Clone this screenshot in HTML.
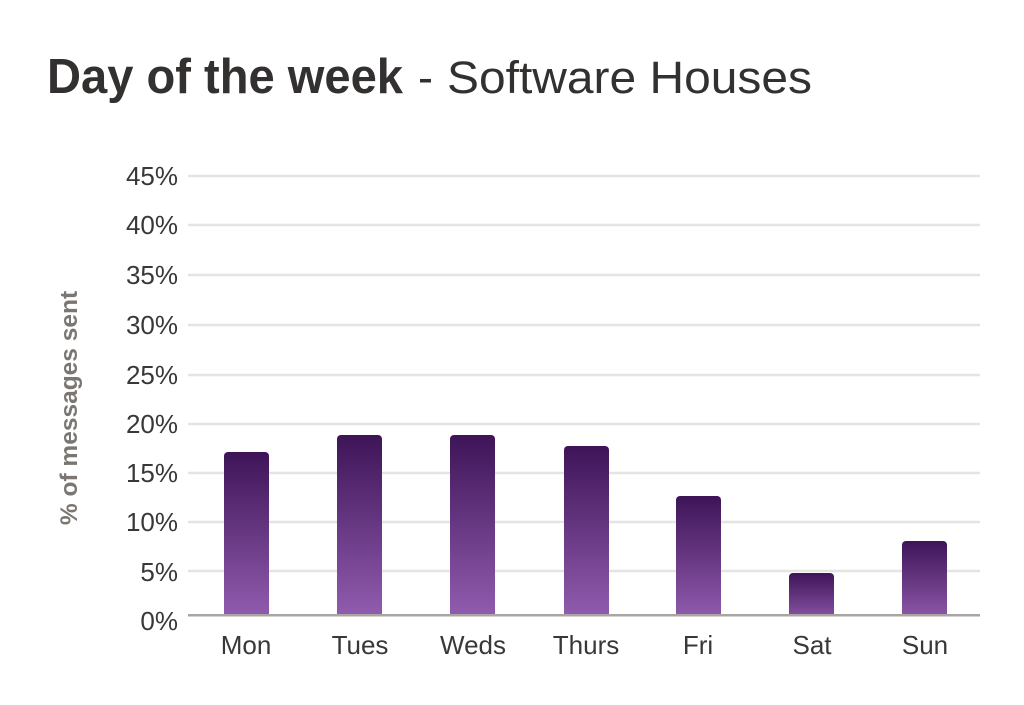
<!DOCTYPE html>
<html><head><meta charset="utf-8"><style>html,body{margin:0;padding:0;background:#fff}svg{display:block}</style></head>
<body>
<svg width="1024" height="705" xmlns="http://www.w3.org/2000/svg" font-family="Liberation Sans, sans-serif">
<defs><linearGradient id="g" x1="0" y1="0" x2="0" y2="1"><stop offset="0" stop-color="#3e1457"/><stop offset="1" stop-color="#9660b4"/></linearGradient>
<clipPath id="c"><rect x="0" y="0" width="1024" height="615"/></clipPath></defs>
<text x="47" y="93" font-size="49" font-weight="bold" fill="#333130" textLength="356" lengthAdjust="spacingAndGlyphs">Day of the week</text>
<text x="418" y="93" font-size="45" fill="#333130">-</text>
<text x="447" y="93" font-size="45" fill="#333130" textLength="365" lengthAdjust="spacingAndGlyphs">Software Houses</text>
<g stroke="#e6e3e3" stroke-width="2.5">
<line x1="188" x2="980" y1="176" y2="176"/><line x1="188" x2="980" y1="225" y2="225"/><line x1="188" x2="980" y1="275" y2="275"/><line x1="188" x2="980" y1="325" y2="325"/><line x1="188" x2="980" y1="375" y2="375"/><line x1="188" x2="980" y1="424" y2="424"/><line x1="188" x2="980" y1="473" y2="473"/><line x1="188" x2="980" y1="522" y2="522"/><line x1="188" x2="980" y1="571" y2="571"/>
</g>
<g fill="#3a3837" font-size="26" text-anchor="end">
<text x="178" y="185">45%</text><text x="178" y="234">40%</text><text x="178" y="284">35%</text><text x="178" y="334">30%</text><text x="178" y="384">25%</text><text x="178" y="433">20%</text><text x="178" y="482">15%</text><text x="178" y="531">10%</text><text x="178" y="581">5%</text><text x="178" y="630">0%</text>
</g>
<g fill="url(#g)" clip-path="url(#c)">
<rect x="224" y="452" width="45" height="175" rx="4"/>
<rect x="337" y="435" width="45" height="192" rx="4"/>
<rect x="450" y="435" width="45" height="192" rx="4"/>
<rect x="564" y="446" width="45" height="181" rx="4"/>
<rect x="676" y="496" width="45" height="131" rx="4"/>
<rect x="789" y="573" width="45" height="54" rx="4"/>
<rect x="902" y="541" width="45" height="86" rx="4"/>
</g>
<rect x="188" y="614" width="792" height="2.5" fill="#a8a5a3"/>
<g fill="#3a3837" font-size="26" text-anchor="middle">
<text x="246" y="654">Mon</text><text x="360" y="654">Tues</text><text x="473" y="654">Weds</text><text x="586" y="654">Thurs</text><text x="698" y="654">Fri</text><text x="812" y="654">Sat</text><text x="925" y="654">Sun</text>
</g>
<text transform="translate(77,408) rotate(-90)" text-anchor="middle" font-size="24.5" font-weight="bold" fill="#7b7671">% of messages sent</text>
</svg>
</body></html>
